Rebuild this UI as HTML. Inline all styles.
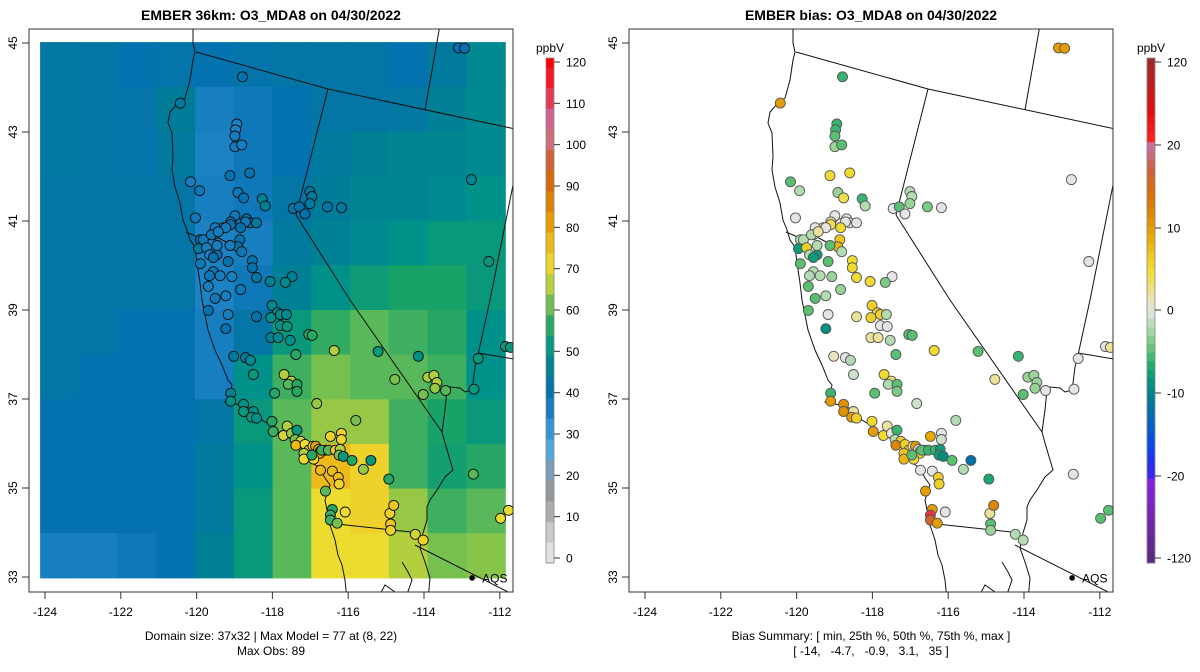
<!DOCTYPE html>
<html><head><meta charset="utf-8"><title>EMBER O3_MDA8</title>
<style>
html,body{margin:0;padding:0;background:#fff;}
svg{display:block;font-family:"Liberation Sans",Arial,sans-serif;}
</style></head>
<body>
<svg id="fig" width="1200" height="672" viewBox="0 0 1200 672" xmlns="http://www.w3.org/2000/svg">
<defs>
<clipPath id="clipL"><rect x="29" y="29" width="484" height="563"/></clipPath>
<clipPath id="clipR"><rect x="629" y="29" width="484" height="563"/></clipPath>
</defs>
<text x="271" y="20" text-anchor="middle" font-size="14" font-weight="bold">EMBER 36km: O3_MDA8 on 04/30/2022</text>
<text x="871" y="20" text-anchor="middle" font-size="14" font-weight="bold">EMBER bias: O3_MDA8 on 04/30/2022</text>
<g id="gridL" clip-path="url(#clipL)"></g>
<g id="baseL" clip-path="url(#clipL)"></g>
<g id="baseR" clip-path="url(#clipR)"></g>
<g id="ptsL" clip-path="url(#clipL)"></g>
<g id="ptsR" clip-path="url(#clipR)"></g>
<rect x="29" y="29" width="484" height="563" fill="none" stroke="#333" stroke-width="1"/>
<rect x="629" y="29" width="484" height="563" fill="none" stroke="#333" stroke-width="1"/>
<g id="axes"></g>
<g id="cbars"></g>
<text x="271" y="640" text-anchor="middle" font-size="12">Domain size: 37x32 | Max Model = 77 at (8, 22)</text>
<text x="271" y="655" text-anchor="middle" font-size="12">Max Obs: 89</text>
<text x="871" y="640" text-anchor="middle" font-size="12">Bias Summary: [ min, 25th %, 50th %, 75th %, max ]</text>
<text x="871" y="655" text-anchor="middle" font-size="12" xml:space="preserve">[ -14,   -4.7,   -0.9,   3.1,   35 ]</text>
</svg>
<script>
// ---- data ----
var gridLon0 = -124.13, gridDx = 1.0225, gridLat0 = 45.02, gridDy = 1.0033;
var modelGrid = [
[43,42,40,41,40,41,42,42,42,40,44,48],
[43,42,41,45,36,38,40,42,42,43,46,48],
[43,42,41,44,35,38,40,44,46,47,47,48],
[42,42,42,42,36,38,42,45,47,47,48,50],
[42,42,42,42,35,36,44,46,48,50,52,52],
[42,42,42,42,35,38,46,50,53,55,55,52],
[42,42,40,40,36,42,52,57,60,58,56,50],
[42,40,40,40,36,50,58,62,60,60,58,50],
[40,40,40,40,42,52,60,64,64,58,55,52],
[40,40,40,40,44,50,60,76,72,58,54,56],
[40,40,40,40,44,52,60,70,72,64,58,60],
[36,36,38,40,46,52,60,70,70,66,62,63]
];
var stLon = [-118.79,-120.43,-118.94,-118.97,-118.99,-118.99,-118.81,-119.12,-118.60,-120.16,-119.92,-118.91,-118.76,-118.27,-118.19,-117.01,-116.96,-117.01,-116.55,-116.18,-117.45,-117.29,-117.14,-120.03,-118.99,-119.10,-118.68,-118.60,-118.84,-118.71,-119.10,-119.30,-119.51,-119.23,-119.56,-118.42,-119.90,-119.82,-119.61,-119.43,-118.84,-118.86,-118.91,-119.95,-119.74,-119.66,-119.46,-119.56,-119.46,-119.12,-118.81,-119.90,-119.17,-119.56,-119.66,-118.53,-118.53,-118.42,-118.06,-119.07,-118.84,-119.38,-117.48,-117.66,-119.69,-119.51,-119.23,-119.69,-119.17,-118.42,-118.01,-117.87,-117.79,-118.04,-117.63,-117.79,-117.61,-119.23,-118.04,-117.85,-117.53,-117.04,-116.95,-116.37,-117.38,-118.71,-119.02,-118.58,-115.21,-114.15,-112.57,-118.50,-117.69,-117.50,-117.58,-117.35,-117.35,-114.77,-113.90,-113.74,-113.66,-113.71,-113.43,-114.02,-119.10,-117.94,-119.10,-118.76,-118.76,-118.50,-118.55,-118.42,-116.83,-115.80,-118.01,-117.98,-117.61,-117.71,-117.50,-117.35,-117.40,-117.25,-116.47,-116.18,-116.18,-117.38,-117.14,-117.04,-116.93,-116.86,-116.78,-116.73,-116.60,-116.75,-117.17,-117.17,-116.91,-116.96,-116.70,-116.52,-116.34,-116.21,-116.24,-116.13,-115.90,-115.40,-115.60,-114.93,-116.73,-116.42,-116.26,-116.24,-116.60,-116.42,-116.47,-116.47,-116.29,-116.08,-114.90,-114.80,-114.88,-114.88,-114.23,-114.02,-112.68,-111.85,-111.72,-111.98,-111.77,-113.09,-112.93,-112.75,-112.29,-112.70];
var stLat = [44.24,43.65,43.18,43.05,42.91,42.67,42.71,42.02,42.08,41.88,41.68,41.64,41.52,41.50,41.34,41.66,41.55,41.39,41.32,41.30,41.28,41.32,41.16,41.07,41.12,40.98,41.05,40.96,40.94,40.98,40.92,40.85,40.85,40.85,40.69,40.96,40.58,40.58,40.69,40.76,40.85,40.58,40.42,40.38,40.40,40.24,40.24,40.18,40.45,40.45,40.31,40.04,40.09,39.86,39.77,40.11,39.95,39.73,39.64,39.75,39.46,39.77,39.75,39.62,39.53,39.26,39.32,38.99,38.90,38.85,39.10,38.94,38.90,38.83,38.90,38.65,38.63,38.58,38.38,38.38,38.32,38.45,38.43,38.09,38.00,37.93,37.96,37.87,38.07,37.96,37.91,37.55,37.55,37.40,37.33,37.33,37.17,37.44,37.49,37.53,37.37,37.24,37.19,37.10,37.13,37.13,36.95,36.88,36.72,36.72,36.59,36.57,36.90,36.52,36.50,36.27,36.39,36.18,36.23,36.30,36.09,36.05,36.16,36.23,36.09,35.96,35.98,35.85,35.94,35.94,35.87,35.83,35.85,35.78,35.78,35.65,35.65,35.74,35.85,35.85,35.85,35.87,35.74,35.71,35.62,35.62,35.42,35.20,35.40,35.38,35.24,35.09,34.93,34.52,34.39,34.28,34.21,34.46,34.43,34.61,34.19,34.05,33.96,33.83,37.22,38.18,38.16,34.32,34.50,44.89,44.88,41.93,40.09,35.31];
var stObs = [40,44,35,35,36,37,36,40,41,36,38,38,40,46,46,44,44,44,42,44,42,40,40,38,38,38,40,40,38,38,40,38,37,37,36,44,40,38,38,37,40,40,42,44,36,36,40,40,36,36,38,38,40,38,38,40,40,42,46,36,38,36,46,48,36,38,36,40,36,40,48,50,50,50,48,50,52,40,46,48,50,56,56,66,56,44,44,48,52,50,52,52,66,66,60,56,56,62,65,66,66,64,60,62,46,56,50,50,52,50,52,50,64,62,56,58,66,68,64,52,62,68,72,72,72,76,70,74,72,80,78,82,80,80,66,70,70,56,58,60,74,66,62,52,56,52,64,56,76,76,76,72,60,56,58,58,62,70,72,74,74,72,68,72,52,52,52,70,70,40,40,48,52,60];
var stBias = [-6,10,-6,-6,-5,-3,-5,5,5,-5,-2,-3,4,-6,-2,-2,-2,-3,-4,0,0,-5,0,0,0,2,0,0,0,0,4,4,0,0,2,0,-2,-2,-2,2,5,7,8,-8,6,-2,-8,-8,-2,-5,-2,-5,-5,-2,-2,5,5,5,5,-3,-3,-2,0,-4,-5,-5,-2,-5,0,2,6,6,6,6,-2,0,0,-9,2,2,-2,-5,-5,5,-5,0,1,-2,-5,-6,0,-1,5,3,-2,-5,-4,2,-3,-3,-3,-3,0,-5,-6,-5,10,11,11,2,10,6,-1,-2,5,10,2,5,0,-6,-2,6,9,0,-1,12,6,6,2,10,0,11,0,6,7,8,5,-5,-5,-6,-6,-8,-8,-9,-5,-12,-2,-7,0,0,6,6,10,10,25,16,10,0,2,12,-5,-3,-2,-2,0,0,2,-5,-5,10,10,0,0,0];
var obsTicks = [0,10,20,30,40,50,60,70,80,90,100,110,120];
var biasTicks = [-120,-20,-10,0,10,20,120];
var lonTicks = [-124,-122,-120,-118,-116,-114,-112];
var latTicks = [33,35,37,39,41,43,45];

// ---- scales ----
function xS(lon, off){ return off + 45 + (lon + 124) * 37.9; }
function yS(lat){ return 43 + (45 - lat) * 44.5; }
function hex(c){ return [parseInt(c.substr(1,2),16),parseInt(c.substr(3,2),16),parseInt(c.substr(5,2),16)]; }
function interp(stops, v){
  if (v <= stops[0][0]) return stops[0][1];
  for (var i=1;i<stops.length;i++){
    if (v <= stops[i][0]){
      var a=stops[i-1], b=stops[i], t=(v-a[0])/(b[0]-a[0]);
      var ca=hex(a[1]), cb=hex(b[1]);
      return 'rgb('+Math.round(ca[0]+(cb[0]-ca[0])*t)+','+Math.round(ca[1]+(cb[1]-ca[1])*t)+','+Math.round(ca[2]+(cb[2]-ca[2])*t)+')';
    }
  }
  return stops[stops.length-1][1];
}
var obsStops=[[0,'#e6e6e6'],[5,'#d2d2d2'],[10,'#b5b5b5'],[15,'#989898'],[20,'#8498a8'],[25,'#5aaee0'],[30,'#3a9ad8'],[35,'#1c82c4'],[40,'#0572b0'],[45,'#007c98'],[50,'#00928a'],[55,'#18a268'],[60,'#58b85a'],[65,'#a6cc40'],[70,'#ecdc30'],[75,'#f0c020'],[80,'#e8a400'],[85,'#e08800'],[90,'#d86c00'],[95,'#d05c20'],[100,'#d07070'],[105,'#c870a0'],[110,'#e04060'],[115,'#f02030'],[120,'#ff0000']];
var biasStops=[[-120,'#5a2a80'],[-25,'#8a20e0'],[-20,'#4020f0'],[-17,'#1040f0'],[-14,'#0060c8'],[-11,'#007898'],[-9,'#009080'],[-7,'#18a870'],[-5,'#58c070'],[-3,'#98d498'],[-1,'#cce2cc'],[0,'#e4e4e4'],[1,'#e8e2c0'],[3,'#f0e070'],[5,'#f0dc30'],[7,'#f0c420'],[9,'#e8a800'],[11,'#e09000'],[14,'#d87000'],[17,'#d06040'],[20,'#c870a0'],[23,'#e04060'],[27,'#ff2020'],[60,'#e01010'],[120,'#a02828']];
var NS='http://www.w3.org/2000/svg';
function mk(tag, attrs, parent){ var e=document.createElementNS(NS,tag); for(var k in attrs) e.setAttribute(k,attrs[k]); parent.appendChild(e); return e; }

// ---- heatmap ----
var gL=document.getElementById('gridL');
for (var r=0;r<modelGrid.length;r++){
  for (var c=0;c<modelGrid[r].length;c++){
    var lonA=gridLon0+c*gridDx, lonB=lonA+gridDx, latA=gridLat0-r*gridDy, latB=latA-gridDy;
    var x0=xS(lonA,0), x1=xS(lonB,0), y0=yS(latA), y1=yS(latB);
    var cell=mk('rect',{x:x0.toFixed(1),y:y0.toFixed(1),width:(x1-x0+0.6).toFixed(1),height:(y1-y0+0.6).toFixed(1),fill:interp(obsStops,modelGrid[r][c])},gL);
    
    
  }
}

// ---- basemap (static geography, panel pixel coordinates) ----
var basePaths=[
 "M193,20 L193,43 L195,52 L193,60 L190,80 L185,98 L178,103 L170,112 L168,123 L172,133 L173,157 L172,170 L175,187 L180,203 L183,220 L187,230 L190,240 L195,247 L197,263 L200,283 L202,300 L208,330 L215,350 L222,365 L228,380 L232,385 L230,395 L225,402 L240,405 L255,410 L262,420 L270,425 L278,432 L285,437 L298,440 L303,445 L306,455 L312,463 L320,468 L325,478 L330,485 L325,500 L327,510 L332,515 L330,525 L335,540 L338,555 L342,565 L345,580 L347,600",
 "M186,232 L200,238 L215,236 L230,244",
 "M196,52 L328,89 L520,130",
 "M328,89 L296,215",
 "M296,215 L350,300 L442,432",
 "M442,432 L445,443 L453,470 L445,477 L437,490 L430,500 L427,507 L427,520 L423,533 L420,548 L425,562 L430,578 L428,600",
 "M442,432 L445,410 L447,390 L450,387 L460,388 L465,392 L472,390 L473,383 L475,367 L478,355 L490,300 L520,150",
 "M478,353 L520,360",
 "M425,110 L440,25",
 "M337,524 L420,533",
 "M415,545 L520,598",
 "M402,562 L408,572 L412,580 L405,600",
 "M378,598 L385,585 L395,592"
];
['baseL','baseR'].forEach(function(id,pi){
  var g=document.getElementById(id);
  basePaths.forEach(function(d){
    var p=mk('path',{d:d,fill:'none',stroke:'#111','stroke-width':'1',transform:'translate('+(pi*600)+',0)'},g);
    
    
  });
  var ax=xS(-112.73,pi*600), ay=yS(32.98);
  var dot=mk('circle',{cx:ax,cy:ay,r:2.8,fill:'#000'},g);
  
  
  var t=mk('text',{x:ax+10,y:ay+4.5,'font-size':'12',fill:'#000'},g);
  t.textContent='AQS';
  
  
});

// ---- points ----
var pL=document.getElementById('ptsL'), pR=document.getElementById('ptsR');
for (var i=0;i<stLon.length;i++){
  var cxL=xS(stLon[i],0), cyy=yS(stLat[i]);
  var a=mk('circle',{cx:cxL.toFixed(1),cy:cyy.toFixed(1),r:5,fill:interp(obsStops,stObs[i]),stroke:'#111','stroke-width':'0.9'},pL);
  
  
  var b=mk('circle',{cx:xS(stLon[i],600).toFixed(1),cy:cyy.toFixed(1),r:5,fill:interp(biasStops,stBias[i]),stroke:'#555','stroke-width':'0.9'},pR);
  
  
}

// ---- axes ----
var gA=document.getElementById('axes');
[0,600].forEach(function(off){
  lonTicks.forEach(function(lon){
    var x=xS(lon,off);
    var tk=mk('line',{x1:x,y1:592,x2:x,y2:599,stroke:'#333'},gA);
    
    
    var tl=mk('text',{x:x,y:616,'text-anchor':'middle','font-size':'12'},gA);
    tl.textContent=String(lon);
    
    
  });
  latTicks.forEach(function(lat){
    var y=yS(lat);
    var tk=mk('line',{x1:off+22,y1:y,x2:off+29,y2:y,stroke:'#333'},gA);
    
    
    var tl=mk('text',{x:0,y:0,'text-anchor':'middle','font-size':'12',transform:'translate('+(off+17)+','+y+') rotate(-90)'},gA);
    tl.textContent=String(lat);
    
    
  });
});

// ---- colorbars ----
var gC=document.getElementById('cbars');
function obsY(v){ return 558 - v*(496/120); }
for (var v=-1.2; v<121; v+=5){
  var lo=Math.max(v,-1.2), hi=Math.min(v+5,121);
  var seg=mk('rect',{x:546,y:obsY(hi).toFixed(1),width:8,height:(obsY(lo)-obsY(hi)+0.4).toFixed(1),fill:interp(obsStops,Math.max(0,(lo+hi)/2))},gC);
  
  
}
mk('rect',{x:546,y:58,width:8,height:505,fill:'none',stroke:'#888','stroke-width':'0.8'},gC);
obsTicks.forEach(function(t){
  var y=obsY(t);
  var ln=mk('line',{x1:554,y1:y,x2:560,y2:y,stroke:'#333'},gC);
  
  
  var tx=mk('text',{x:566,y:y+4.5,'font-size':'12'},gC);
  tx.textContent=String(t);
  
  
});
var u1=mk('text',{x:550,y:52,'text-anchor':'middle','font-size':'12'},gC);
u1.textContent='ppbV';



var bY=[558,476,393,310,228,145,62];
function yToBias(y){
  for (var k=0;k<bY.length-1;k++){
    if (y<=bY[k] && y>=bY[k+1]){ var t=(bY[k]-y)/(bY[k]-bY[k+1]); return biasTicks[k]+t*(biasTicks[k+1]-biasTicks[k]); }
  }
  return y>558?-120:120;
}
var nb=60, bh=505/nb;
for (var k=0;k<nb;k++){
  var y0=58+k*bh;
  var band=mk('rect',{x:1147,y:y0.toFixed(1),width:8,height:(bh+0.4).toFixed(1),fill:interp(biasStops,yToBias(y0+bh/2))},gC);
  
  
}
mk('rect',{x:1147,y:58,width:8,height:505,fill:'none',stroke:'#888','stroke-width':'0.8'},gC);
biasTicks.forEach(function(t,k){
  var y=bY[k];
  var ln=mk('line',{x1:1155,y1:y,x2:1161,y2:y,stroke:'#333'},gC);
  
  
  var tx=mk('text',{x:1167,y:y+4.5,'font-size':'12'},gC);
  tx.textContent=String(t);
  
  
});
var u2=mk('text',{x:1151,y:52,'text-anchor':'middle','font-size':'12'},gC);
u2.textContent='ppbV';


</script>
</body></html>
